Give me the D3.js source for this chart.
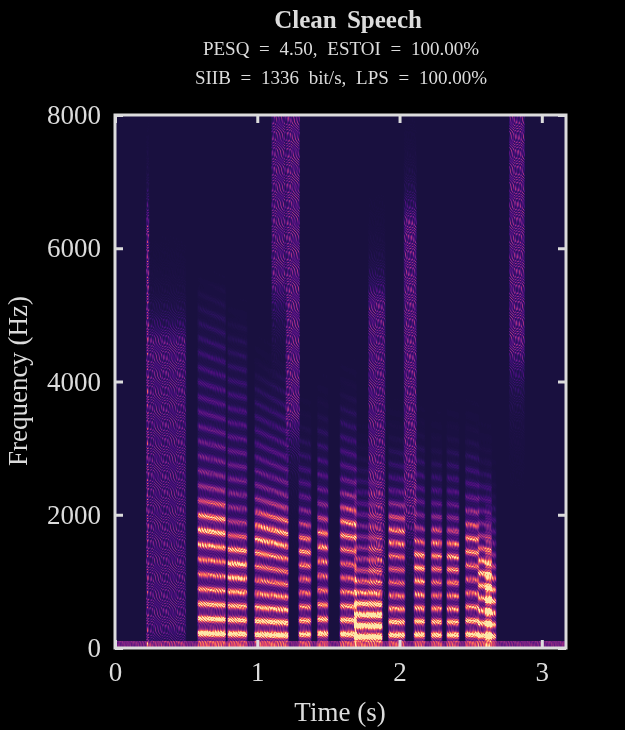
<!DOCTYPE html>
<html><head><meta charset="utf-8">
<script src="https://cdn.jsdelivr.net/npm/d3@7"></script>
<style>
body{margin:0;background:#000;}
#wrap{position:relative;width:625px;height:730px;}
canvas,svg{position:absolute;left:0;top:0;}
</style></head>
<body><div id="wrap"><canvas id="spec" width="625" height="730"></canvas><svg id="chart" width="625" height="730"></svg></div>
<script>
// segments of the utterance
var segType  = ['f', 'f', 'v', 'v', 'v', 'f', 'v', 'v', 'v', 'v', 'f', 'v', 'f', 'v', 'v', 'v', 'v', 'v', 'v', 'f', 'f'];
var segStart = [0.22,0.24,0.58,0.79,0.98,1.20,1.29,1.42,1.58,1.68,1.78,1.92,2.03,2.10,2.22,2.33,2.46,2.55,2.60,2.77,1.10];
var segEnd   = [0.24,0.50,0.78,0.93,1.22,1.30,1.38,1.50,1.70,1.88,1.90,2.04,2.12,2.18,2.30,2.42,2.56,2.65,2.68,2.88,1.20];
var segF0a   = [0,   0,   222, 212, 205, 0,   208, 218, 212, 168, 0,   198, 0,   202, 198, 197, 207, 188, 178, 0,   0];
var segF0b   = [0,   0,   214, 208, 190, 0,   204, 214, 206, 164, 0,   194, 0,   198, 196, 194, 203, 184, 174, 0,   0];
var segLow   = [0,   300, 0,   0,   0,   3500,0,   0,   0,   0,   1200,0,   2000,0,   0,   0,   0,   0,   0,   4500,5500];
var segTop   = [6300,4600,5500,5000,4200,8000,3200,3500,3800,2600,5200,3000,6400,3000,2800,3000,3000,2600,2000,8000,8000];
var segGain  = [0.45,0.22,1.10,1.00,1.05,0.28,0.90,0.95,1.00,0.95,0.25,0.95,0.28,0.95,0.90,0.90,0.95,0.95,0.80,0.28,0.25];
var segF2    = [0,   0,   1800,1300,1700,0,   1500,1600,1800,400, 0,   1700,0,   1300,1500,1400,1600,1200,800, 0,   0];

var xTicks = [0, 1, 2, 3];
var yTicks = [0, 2000, 4000, 6000, 8000];

var L = 115, R = 566, T = 115, B = 648;
var x = d3.scaleLinear().domain([0, 3.17]).range([L, R]);
var y = d3.scaleLinear().domain([0, 8000]).range([B, T]);

// paint the spectrogram
var ctx = document.getElementById('spec').getContext('2d');
var img = ctx.createImageData(R - L, B - T);
for (var py = T; py < B; py++) {
  var f = y.invert(py + 0.5);
  for (var px = L; px < R; px++) {
    var t = x.invert(px + 0.5);
    var tex = 0.5 + 0.5 * Math.sin(px * 2.31 + py * 1.73 + Math.sin(py * 0.37) * 3) * Math.cos(px * 0.93 - py * 2.97 + Math.cos(px * 0.41) * 3);
    var v = 0.03;
    if (f < 110) v += 0.3 * (0.6 + 0.6 * tex);
    for (var i = 0; i < segType.length; i++) {
      if (t < segStart[i] - 0.01 || t > segEnd[i] + 0.01) continue;
      var span = segEnd[i] - segStart[i];
      var u = (t - segStart[i]) / span;
      var edge = Math.min(1, Math.max(0, Math.min(u, 1 - u) * span / 0.012 + 0.3));
      if (segType[i] === 'v') {
        var f0 = segF0a[i] + (segF0b[i] - segF0a[i]) * u;
        var r = f / f0, d = Math.abs(r - Math.round(r)) * f0;
        var peak = Math.round(r) >= 1 ? Math.exp(-(d / 45) * (d / 45)) : 0;
        var env = segGain[i] * (1.1 * Math.exp(-f / 900) + 0.5 * Math.exp(-Math.pow((f - segF2[i]) / 400, 2)) + 0.4 * Math.max(0, 1 - f / segTop[i]));
        if (f > segTop[i]) env *= Math.exp(-(f - segTop[i]) / 300);
        v += edge * env * (0.2 + 0.8 * peak) * (0.6 + 0.7 * tex);
      } else {
        var band = f < segLow[i] ? Math.exp(-(segLow[i] - f) / 400) : f > segTop[i] ? Math.exp(-(f - segTop[i]) / 300) : 1;
        v += edge * segGain[i] * band * (0.2 + 1.3 * tex * tex);
      }
    }
    var c = d3.rgb(d3.interpolateMagma(0.09 + 0.86 * Math.min(1, v)));
    var k = ((py - T) * (R - L) + (px - L)) * 4;
    img.data[k] = c.r; img.data[k + 1] = c.g; img.data[k + 2] = c.b; img.data[k + 3] = 255;
  }
}
ctx.putImageData(img, L, T);

var svg = d3.select('#chart');
var font = '"Liberation Serif", "DejaVu Serif", serif';
var fg = '#dcdcdc';

svg.append('g').attr('transform', 'translate(0,' + B + ')')
  .call(d3.axisBottom(x).tickValues(xTicks).tickSize(-8).tickPadding(14).tickFormat(d3.format('d')))
  .call(function (g) { g.select('.domain').remove(); });
svg.append('g').attr('transform', 'translate(' + L + ',0)')
  .call(d3.axisLeft(y).tickValues(yTicks).tickSize(-8).tickPadding(14).tickFormat(d3.format('d')))
  .call(function (g) { g.select('.domain').remove(); });
svg.append('g').attr('transform', 'translate(' + R + ',0)')
  .call(d3.axisRight(y).tickValues(yTicks).tickSize(-8).tickFormat(''))
  .call(function (g) { g.select('.domain').remove(); });
svg.append('g').attr('transform', 'translate(0,' + T + ')')
  .call(d3.axisTop(x).tickValues(xTicks).tickSize(-8).tickFormat(''))
  .call(function (g) { g.select('.domain').remove(); });
svg.selectAll('.tick line').attr('stroke', fg).attr('stroke-width', 3);
svg.selectAll('.tick text').attr('fill', fg).style('font-family', font).style('font-size', '27px');

svg.append('rect').attr('x', L).attr('y', T).attr('width', R - L).attr('height', B - T)
  .attr('fill', 'none').attr('stroke', fg).attr('stroke-width', 3);

svg.append('text').attr('x', 348).attr('y', 28).attr('text-anchor', 'middle').attr('fill', fg)
  .style('font-family', font).style('font-size', '25px').style('font-weight', 'bold').style('word-spacing', '4px').text('Clean Speech');
svg.append('text').attr('x', 341).attr('y', 55).attr('text-anchor', 'middle').attr('fill', fg)
  .style('font-family', font).style('font-size', '19px').style('word-spacing', '5px').text('PESQ = 4.50, ESTOI = 100.00%');
svg.append('text').attr('x', 341).attr('y', 84).attr('text-anchor', 'middle').attr('fill', fg)
  .style('font-family', font).style('font-size', '19px').style('word-spacing', '5px').text('SIIB = 1336 bit/s, LPS = 100.00%');
svg.append('text').attr('x', 340).attr('y', 721).attr('text-anchor', 'middle').attr('fill', fg)
  .style('font-family', font).style('font-size', '27px').text('Time (s)');
svg.append('text').attr('transform', 'translate(27,381) rotate(-90)').attr('text-anchor', 'middle').attr('fill', fg)
  .style('font-family', font).style('font-size', '27px').text('Frequency (Hz)');
</script></body></html>
